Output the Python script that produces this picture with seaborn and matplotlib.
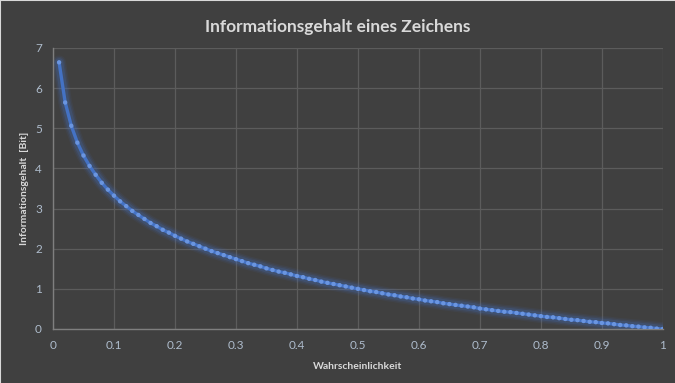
import matplotlib
matplotlib.use("Agg")
import matplotlib.pyplot as plt
import seaborn as sns
import pandas as pd

# probability of a symbol and its information content (bit)
probability = [
    0.01, 0.02, 0.03, 0.04, 0.05, 0.06, 0.07, 0.08, 0.09, 0.10,
    0.11, 0.12, 0.13, 0.14, 0.15, 0.16, 0.17, 0.18, 0.19, 0.20,
    0.21, 0.22, 0.23, 0.24, 0.25, 0.26, 0.27, 0.28, 0.29, 0.30,
    0.31, 0.32, 0.33, 0.34, 0.35, 0.36, 0.37, 0.38, 0.39, 0.40,
    0.41, 0.42, 0.43, 0.44, 0.45, 0.46, 0.47, 0.48, 0.49, 0.50,
    0.51, 0.52, 0.53, 0.54, 0.55, 0.56, 0.57, 0.58, 0.59, 0.60,
    0.61, 0.62, 0.63, 0.64, 0.65, 0.66, 0.67, 0.68, 0.69, 0.70,
    0.71, 0.72, 0.73, 0.74, 0.75, 0.76, 0.77, 0.78, 0.79, 0.80,
    0.81, 0.82, 0.83, 0.84, 0.85, 0.86, 0.87, 0.88, 0.89, 0.90,
    0.91, 0.92, 0.93, 0.94, 0.95, 0.96, 0.97, 0.98, 0.99, 1.00,
]
info_bits = [
    6.64, 5.64, 5.06, 4.64, 4.32, 4.06, 3.84, 3.64, 3.47, 3.32,
    3.18, 3.06, 2.94, 2.84, 2.74, 2.64, 2.56, 2.47, 2.40, 2.32,
    2.25, 2.18, 2.12, 2.06, 2.00, 1.94, 1.89, 1.84, 1.79, 1.74,
    1.69, 1.64, 1.60, 1.56, 1.51, 1.47, 1.43, 1.40, 1.36, 1.32,
    1.29, 1.25, 1.22, 1.18, 1.15, 1.12, 1.09, 1.06, 1.03, 1.00,
    0.97, 0.94, 0.92, 0.89, 0.86, 0.84, 0.81, 0.79, 0.76, 0.74,
    0.71, 0.69, 0.67, 0.64, 0.62, 0.60, 0.58, 0.56, 0.54, 0.51,
    0.49, 0.47, 0.45, 0.43, 0.42, 0.40, 0.38, 0.36, 0.34, 0.32,
    0.30, 0.29, 0.27, 0.25, 0.23, 0.22, 0.20, 0.18, 0.17, 0.15,
    0.14, 0.12, 0.10, 0.09, 0.07, 0.06, 0.04, 0.03, 0.01, 0.00,
]
x_ticks = [0, 0.1, 0.2, 0.3, 0.4, 0.5, 0.6, 0.7, 0.8, 0.9, 1]
x_tick_labels = ["0", "0.1", "0.2", "0.3", "0.4", "0.5", "0.6", "0.7", "0.8", "0.9", "1"]
y_ticks = [0, 1, 2, 3, 4, 5, 6, 7]

df = pd.DataFrame({"p": probability, "bits": info_bits})

BG = "#404040"
GRID = "#5c5c5c"
TEXT = "#d9d9d9"
TICK = "#aebccc"
LINE = "#4472c4"

sns.set_theme(style="dark")
plt.rcParams["font.family"] = ["Lato", "DejaVu Sans"]

fig = plt.figure(figsize=(6.75, 3.83), dpi=100)
fig.patch.set_facecolor(BG)
ax = fig.add_axes([0.0785, 0.141, 0.9035, 0.734])
ax.set_facecolor(BG)

# glow under the line
for w, a in [(10, 0.08), (8, 0.12), (6, 0.2)]:
    sns.lineplot(data=df, x="p", y="bits", ax=ax, color=LINE, linewidth=w,
                 alpha=a, solid_capstyle="round")
sns.lineplot(data=df, x="p", y="bits", ax=ax, color=LINE, linewidth=2.4)
sns.scatterplot(data=df, x="p", y="bits", ax=ax, color="#6a95e0", s=10,
                edgecolor="none", zorder=5)

ax.set_xlim(0, 1)
ax.set_ylim(0, 7)
ax.set_xticks(x_ticks)
ax.set_xticklabels(x_tick_labels)
ax.set_yticks(y_ticks)
ax.grid(True, color=GRID, linewidth=0.9)
ax.set_axisbelow(True)
ax.tick_params(colors=TICK, labelsize=8.5, length=0)
ax.tick_params(axis="x", pad=8)
ax.tick_params(axis="y", pad=8)
for side in ["top", "right"]:
    ax.spines[side].set_visible(False)
for side in ["left", "bottom"]:
    ax.spines[side].set_color("#7f7f7f")
    ax.spines[side].set_linewidth(1)

ax.set_xlabel("Wahrscheinlichkeit", color=TEXT, fontsize=7.5, fontweight="bold", labelpad=8)
ax.set_ylabel("Informationsgehalt  [Bit]", color=TEXT, fontsize=7.5, fontweight="bold", labelpad=4)
fig.suptitle("Informationsgehalt eines Zeichens", color=TEXT, fontsize=12.5,
             fontweight="bold", y=0.95)

# thin light frame on the top and left edge, as in the reference
fig.add_artist(plt.Line2D([0, 0, 1], [0, 1, 1], transform=fig.transFigure,
                          color="#d9d9d9", linewidth=1.5))

fig.savefig("out.png", dpi=100, facecolor=BG)
